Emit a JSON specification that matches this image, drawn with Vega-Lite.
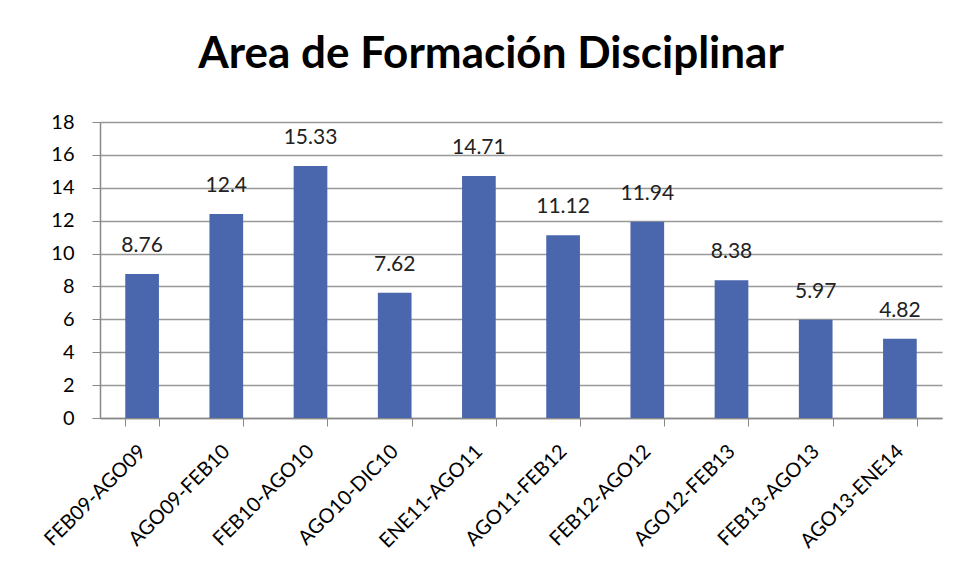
{
  "$schema": "https://vega.github.io/schema/vega-lite/v6.json",
  "autosize": {"type": "none"},
  "padding": {"left": 100, "top": 122, "right": 14, "bottom": 164},
  "width": 842,
  "height": 296,
  "background": "white",
  "title": {
    "text": "Area de Formación Disciplinar",
    "font": "Lato",
    "fontSize": 44,
    "fontWeight": "bold",
    "color": "#000000",
    "anchor": "middle",
    "frame": "group",
    "baseline": "alphabetic",
    "offset": 0,
    "dx": -30
  },
  "data": {
    "values": [
      {"periodo": "FEB09-AGO09", "valor": 8.76},
      {"periodo": "AGO09-FEB10", "valor": 12.4},
      {"periodo": "FEB10-AGO10", "valor": 15.33},
      {"periodo": "AGO10-DIC10", "valor": 7.62},
      {"periodo": "ENE11-AGO11", "valor": 14.71},
      {"periodo": "AGO11-FEB12", "valor": 11.12},
      {"periodo": "FEB12-AGO12", "valor": 11.94},
      {"periodo": "AGO12-FEB13", "valor": 8.38},
      {"periodo": "FEB13-AGO13", "valor": 5.97},
      {"periodo": "AGO13-ENE14", "valor": 4.82}
    ]
  },
  "encoding": {
    "x": {
      "field": "periodo",
      "type": "nominal",
      "sort": null,
      "scale": {"paddingInner": 0.6, "paddingOuter": 0.3},
      "axis": {
        "title": null,
        "labelAngle": -45,
        "labelAlign": "right",
        "labelBaseline": "middle",
        "labelFont": "Lato",
        "labelFontSize": 20,
        "labelColor": "#000000",
        "labelPadding": 22,
        "tickBand": "extent",
        "tickSize": 8,
        "tickColor": "#888888",
        "domainColor": "#888888",
        "domainWidth": 1.5
      }
    },
    "y": {
      "field": "valor",
      "type": "quantitative",
      "scale": {"domain": [0, 18], "nice": false},
      "axis": {
        "title": null,
        "values": [0, 2, 4, 6, 8, 10, 12, 14, 16, 18],
        "labelFont": "Lato",
        "labelFontSize": 20,
        "labelColor": "#000000",
        "labelPadding": 18,
        "tickSize": 8,
        "tickColor": "#888888",
        "gridColor": "#999999",
        "gridWidth": 1.5,
        "domainColor": "#888888",
        "domainWidth": 1.5
      }
    }
  },
  "layer": [
    {"mark": {"type": "bar", "color": "#4A66AC"}},
    {
      "mark": {"type": "text", "dy": -28, "font": "Lato", "fontSize": 21, "color": "#222222"},
      "encoding": {"text": {"field": "valor", "type": "quantitative"}}
    }
  ],
  "config": {"view": {"stroke": null}}
}
